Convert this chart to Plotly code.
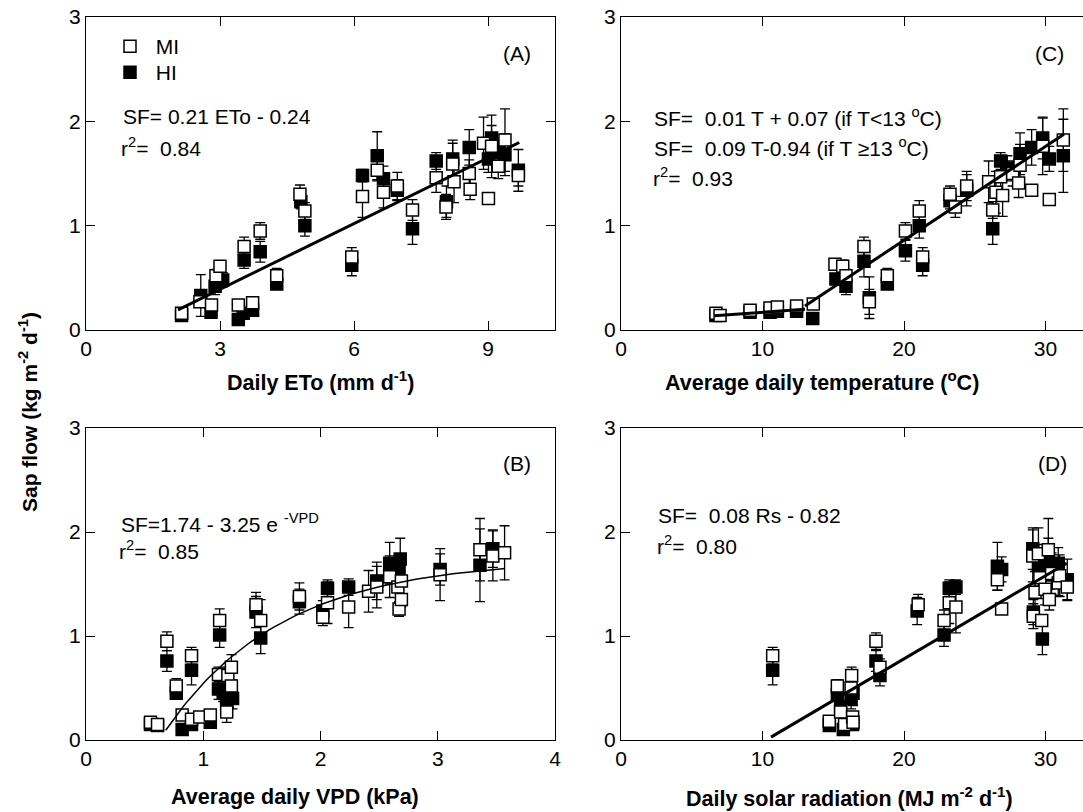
import numpy as np
import plotly.graph_objects as go

W, H = 1083, 812

# ---------------- Data ----------------
# Panel A: Daily ETo
a_mi_x = [2.14, 2.55, 2.81, 2.91, 3.00, 3.41, 3.73, 3.54, 3.90, 4.27, 4.79, 4.90, 5.95, 6.19, 6.52, 6.66, 6.97, 7.31, 7.84, 8.06, 8.21, 8.24, 8.58, 8.60, 8.90, 9.01, 9.08, 9.23, 9.38, 9.68]
a_mi_y = [0.16, 0.27, 0.24, 0.52, 0.61, 0.24, 0.26, 0.80, 0.95, 0.52, 1.30, 1.14, 0.70, 1.28, 1.53, 1.32, 1.38, 1.15, 1.46, 1.18, 1.59, 1.42, 1.50, 1.35, 1.79, 1.26, 1.76, 1.57, 1.82, 1.48]
a_mi_e = [0.02, 0.05, 0.04, 0.06, 0.05, 0.05, 0.04, 0.09, 0.08, 0.07, 0.09, 0.08, 0.09, 0.20, 0.10, 0.15, 0.13, 0.10, 0.14, 0.12, 0.20, 0.20, 0.13, 0.10, 0.25, 0.04, 0.30, 0.12, 0.30, 0.10]
a_hi_x = [2.14, 2.57, 2.80, 2.89, 3.06, 3.41, 3.52, 3.73, 3.54, 3.90, 4.27, 4.81, 4.90, 5.95, 6.19, 6.52, 6.66, 6.97, 7.31, 7.84, 8.07, 8.21, 8.58, 9.01, 9.08, 9.23, 9.38, 9.68]
a_hi_y = [0.14, 0.33, 0.17, 0.42, 0.48, 0.10, 0.16, 0.19, 0.67, 0.75, 0.44, 1.23, 1.00, 0.62, 1.48, 1.67, 1.45, 1.34, 0.97, 1.62, 1.23, 1.64, 1.75, 1.64, 1.84, 1.70, 1.68, 1.53]
a_hi_e = [0.02, 0.20, 0.03, 0.08, 0.07, 0.03, 0.04, 0.04, 0.08, 0.10, 0.05, 0.07, 0.10, 0.10, 0.06, 0.23, 0.12, 0.10, 0.15, 0.08, 0.15, 0.18, 0.17, 0.13, 0.12, 0.12, 0.20, 0.20]
a_fit = (0.21, -0.24)
a_fit_range = [2.06, 9.70]

# Panel C: Average daily temperature
c_mi_x = [6.71, 7.0, 9.12, 10.53, 11.05, 12.41, 13.59, 15.12, 15.67, 15.9, 17.17, 17.55, 18.82, 20.1, 21.08, 21.32, 23.25, 23.63, 24.43, 25.98, 26.27, 26.5, 26.83, 26.97, 27.68, 28.2, 28.1, 29.02, 29.8, 30.27, 31.26]
c_mi_y = [0.16, 0.14, 0.19, 0.21, 0.22, 0.23, 0.25, 0.63, 0.61, 0.52, 0.80, 0.27, 0.52, 0.95, 1.14, 0.70, 1.30, 1.18, 1.38, 1.42, 1.15, 1.32, 1.47, 1.29, 1.50, 1.58, 1.41, 1.34, 1.76, 1.25, 1.82]
c_mi_e = [0.02, 0.02, 0.03, 0.03, 0.03, 0.03, 0.05, 0.05, 0.06, 0.06, 0.09, 0.12, 0.07, 0.08, 0.10, 0.09, 0.08, 0.10, 0.14, 0.20, 0.08, 0.20, 0.20, 0.20, 0.12, 0.20, 0.14, 0.04, 0.27, 0.05, 0.30]
c_hi_x = [6.71, 9.12, 10.53, 11.05, 12.41, 13.55, 15.19, 15.9, 17.17, 17.55, 18.82, 20.1, 21.08, 21.32, 23.25, 24.43, 26.27, 26.83, 27.3, 28.2, 29.02, 29.8, 30.27, 31.26]
c_hi_y = [0.14, 0.17, 0.17, 0.18, 0.18, 0.11, 0.49, 0.42, 0.66, 0.31, 0.44, 0.76, 1.00, 0.62, 1.24, 1.34, 0.97, 1.62, 1.55, 1.69, 1.75, 1.84, 1.64, 1.67]
c_hi_e = [0.02, 0.02, 0.02, 0.02, 0.02, 0.03, 0.05, 0.08, 0.15, 0.20, 0.04, 0.10, 0.12, 0.10, 0.08, 0.15, 0.15, 0.08, 0.12, 0.20, 0.17, 0.20, 0.12, 0.35]
c_fit_low = (0.01, 0.07)
c_fit_high = (0.09, -0.94)
c_fit_range = [6.6, 13.0, 31.3]

# Panel B: Average daily VPD
b_mi_x = [0.55, 0.61, 0.69, 0.77, 0.82, 0.90, 0.90, 0.97, 1.06, 1.13, 1.14, 1.20, 1.21, 1.24, 1.24, 1.45, 1.49, 1.82, 2.02, 2.06, 2.24, 2.41, 2.48, 2.59, 2.66, 2.67, 2.69, 2.69, 3.02, 3.36, 3.47, 3.57]
b_mi_y = [0.17, 0.15, 0.95, 0.52, 0.24, 0.81, 0.20, 0.22, 0.24, 0.63, 1.15, 0.27, 0.62, 0.70, 0.52, 1.30, 1.15, 1.38, 1.18, 1.32, 1.28, 1.43, 1.47, 1.57, 1.47, 1.26, 1.35, 1.53, 1.59, 1.83, 1.77, 1.80]
b_mi_e = [0.02, 0.02, 0.09, 0.07, 0.05, 0.08, 0.02, 0.03, 0.04, 0.07, 0.11, 0.10, 0.08, 0.12, 0.06, 0.12, 0.20, 0.13, 0.08, 0.20, 0.20, 0.20, 0.20, 0.20, 0.20, 0.07, 0.05, 0.25, 0.25, 0.30, 0.24, 0.26]
b_hi_x = [0.55, 0.61, 0.69, 0.77, 0.82, 0.90, 0.90, 1.06, 1.13, 1.14, 1.17, 1.20, 1.22, 1.25, 1.45, 1.49, 1.82, 2.02, 2.06, 2.24, 2.48, 2.59, 2.67, 2.68, 3.02, 3.36, 3.47]
b_hi_y = [0.15, 0.14, 0.76, 0.45, 0.10, 0.67, 0.15, 0.17, 0.49, 1.01, 0.45, 0.35, 0.41, 0.40, 1.23, 0.98, 1.33, 1.24, 1.46, 1.47, 1.53, 1.70, 1.63, 1.74, 1.64, 1.68, 1.84]
b_hi_e = [0.02, 0.02, 0.10, 0.06, 0.03, 0.14, 0.03, 0.03, 0.10, 0.12, 0.08, 0.10, 0.10, 0.10, 0.15, 0.15, 0.12, 0.10, 0.08, 0.08, 0.18, 0.20, 0.14, 0.20, 0.15, 0.35, 0.18]
b_fit = (1.74, 3.25)
b_fit_range = [0.68, 3.57]

# Panel D: Daily solar radiation
d_mi_x = [10.72, 14.72, 15.29, 15.52, 15.8, 16.3, 16.26, 16.37, 16.4, 18.02, 18.3, 21.0, 22.83, 23.2, 23.67, 26.6, 26.9, 29.1, 29.14, 29.26, 29.5, 29.6, 29.73, 29.97, 30.2, 30.27, 30.43, 30.9, 31.0, 31.54]
d_mi_y = [0.81, 0.18, 0.52, 0.27, 0.15, 0.62, 0.50, 0.22, 0.17, 0.95, 0.70, 1.30, 1.15, 1.32, 1.28, 1.54, 1.26, 1.77, 1.19, 1.42, 1.79, 1.56, 1.15, 1.45, 1.83, 1.35, 1.60, 1.51, 1.58, 1.47]
d_mi_e = [0.08, 0.02, 0.06, 0.05, 0.03, 0.08, 0.10, 0.04, 0.03, 0.08, 0.08, 0.10, 0.10, 0.20, 0.25, 0.10, 0.05, 0.25, 0.12, 0.20, 0.25, 0.20, 0.05, 0.15, 0.30, 0.10, 0.20, 0.12, 0.20, 0.12]
d_hi_x = [10.72, 14.72, 15.29, 15.52, 15.71, 16.26, 16.4, 16.37, 18.02, 18.3, 20.93, 22.83, 23.2, 23.67, 26.6, 26.9, 29.1, 29.14, 29.5, 29.78, 30.2, 30.27, 30.9, 31.54]
d_hi_y = [0.67, 0.14, 0.43, 0.32, 0.10, 0.40, 0.45, 0.15, 0.76, 0.62, 1.24, 1.01, 1.46, 1.47, 1.67, 1.64, 1.84, 1.23, 1.68, 0.97, 1.74, 1.67, 1.70, 1.54]
d_hi_e = [0.14, 0.02, 0.05, 0.05, 0.03, 0.10, 0.12, 0.03, 0.10, 0.10, 0.13, 0.11, 0.08, 0.07, 0.23, 0.12, 0.20, 0.12, 0.20, 0.15, 0.20, 0.14, 0.15, 0.20]
d_fit = (0.08, -0.82)
d_fit_range = [10.6, 31.5]

y_ticks = [0, 1, 2, 3]

# ---------------- Helpers ----------------
FONT = "Liberation Sans, Arial, sans-serif"

def px(x):
    return x / W

def py(y):
    return 1 - y / H

fig = go.Figure()

def add_points(xs, ys, es, xa, ya, filled, name, show, legend="legend"):
    fig.add_trace(go.Scatter(
        x=xs, y=ys, mode="markers", name=name, showlegend=show, legend=legend,
        xaxis=xa, yaxis=ya,
        marker=dict(symbol="square", size=12,
                    color="black" if filled else "white",
                    line=dict(color="black", width=1.5)),
        error_y=dict(type="data", array=es, color="black", thickness=1.3, width=5),
    ))

def add_line(xs, ys, xa, ya, width):
    fig.add_trace(go.Scatter(x=xs, y=ys, mode="lines", showlegend=False,
                             xaxis=xa, yaxis=ya,
                             line=dict(color="black", width=width)))

NB = "\u00a0"

# Panel A (x, y)
add_points(a_hi_x, a_hi_y, a_hi_e, "x", "y", True, NB + "HI", True, "legend2")
add_points(a_mi_x, a_mi_y, a_mi_e, "x", "y", False, NB + "MI", True, "legend")
ax = np.array(a_fit_range)
add_line(ax, a_fit[0] * ax + a_fit[1], "x", "y", 3)

# Panel C (x2, y2)
add_points(c_hi_x, c_hi_y, c_hi_e, "x2", "y2", True, "HI", False)
add_points(c_mi_x, c_mi_y, c_mi_e, "x2", "y2", False, "MI", False)
cx1 = np.array(c_fit_range[:2])
cx2 = np.array(c_fit_range[1:])
add_line(cx1, c_fit_low[0] * cx1 + c_fit_low[1], "x2", "y2", 3)
add_line(cx2, c_fit_high[0] * cx2 + c_fit_high[1], "x2", "y2", 3)

# Panel B (x3, y3)
add_points(b_hi_x, b_hi_y, b_hi_e, "x3", "y3", True, "HI", False)
add_points(b_mi_x, b_mi_y, b_mi_e, "x3", "y3", False, "MI", False)
bx = np.linspace(b_fit_range[0], b_fit_range[1], 80)
add_line(bx, b_fit[0] - b_fit[1] * np.exp(-bx), "x3", "y3", 1.5)

# Panel D (x4, y4)
add_points(d_hi_x, d_hi_y, d_hi_e, "x4", "y4", True, "HI", False)
add_points(d_mi_x, d_mi_y, d_mi_e, "x4", "y4", False, "MI", False)
dx = np.array(d_fit_range)
add_line(dx, d_fit[0] * dx + d_fit[1], "x4", "y4", 3)

# ---------------- Axes ----------------
common = dict(showline=True, linecolor="black", linewidth=1.2, mirror="ticks",
              ticks="inside", ticklen=9, tickwidth=1.2, tickcolor="black",
              showgrid=False, zeroline=False, automargin=False,
              tickfont=dict(family=FONT, size=21, color="black"))
right_y = dict(common, mirror=False)

left_dom = [px(86), px(555)]
right_dom = [px(621), 1.0]
top_dom = [py(330), py(17)]
bot_dom = [py(740), py(428)]

fig.update_layout(
    xaxis=dict(domain=left_dom, range=[0, 10.5], tickvals=[0, 3, 6, 9], anchor="y", **common),
    yaxis=dict(domain=top_dom, range=[0, 3], tickvals=y_ticks, anchor="x", **common),
    xaxis2=dict(domain=right_dom, range=[0, 32.65], tickvals=[0, 10, 20, 30], anchor="y2", **common),
    yaxis2=dict(domain=top_dom, range=[0, 3], tickvals=y_ticks, anchor="x2", **right_y),
    xaxis3=dict(domain=left_dom, range=[0, 4], tickvals=[0, 1, 2, 3, 4], anchor="y3", **common),
    yaxis3=dict(domain=bot_dom, range=[0, 3], tickvals=y_ticks, anchor="x3", **common),
    xaxis4=dict(domain=right_dom, range=[0, 32.65], tickvals=[0, 10, 20, 30], anchor="y4", **common),
    yaxis4=dict(domain=bot_dom, range=[0, 3], tickvals=y_ticks, anchor="x4", **right_y),
)

# ---------------- Annotations ----------------
ann = []

def text(x, y, s, size=21, xanchor="left", bold=False, angle=0):
    ann.append(dict(x=px(x), y=py(y), xref="paper", yref="paper", text=("<b>%s</b>" % s) if bold else s,
                    showarrow=False, xanchor=xanchor, yanchor="middle", textangle=angle,
                    font=dict(family=FONT, size=size, color="black")))

# panel letters
text(517, 53, "(A)", xanchor="center")
text(1049, 53, "(C)", xanchor="center")
text(517, 463, "(B)", xanchor="center")
text(1052, 463, "(D)", xanchor="center")

# equations
text(121, 117, "SF= 0.21 ETo - 0.24")
text(119, 147, "r<sup>2</sup>=  0.84")
text(652, 117, "SF=  0.01 T + 0.07 (if T&lt;13 <sup>o</sup>C)")
text(652, 147, "SF=  0.09 T-0.94 (if T \u226513 <sup>o</sup>C)")
text(651, 177, "r<sup>2</sup>=  0.93")
text(119, 523, "SF=1.74 - 3.25 e <sup>-VPD</sup>")
text(117, 550, "r<sup>2</sup>=  0.85")
text(656, 515, "SF=  0.08 Rs - 0.82")
text(655, 545, "r<sup>2</sup>=  0.80")

# axis titles
text(320, 381, "Daily ETo (mm d<sup>-1</sup>)", size=21.5, xanchor="center", bold=True)
text(822, 381, "Average daily temperature (<sup>o</sup>C)", size=21.5, xanchor="center", bold=True)
text(295, 797, "Average daily VPD (kPa)", size=21.5, xanchor="center", bold=True)
text(849, 797, "Daily solar radiation (MJ m<sup>-2</sup> d<sup>-1</sup>)", size=21.5, xanchor="center", bold=True)
ann.append(dict(x=px(28), y=py(412), xref="paper", yref="paper",
                text="<b>Sap flow (kg m<sup>-2</sup> d<sup>-1</sup>)</b>", showarrow=False,
                textangle=-90, xanchor="center", yanchor="middle",
                font=dict(family=FONT, size=21, color="black")))

leg_common = dict(xanchor="left", yanchor="top", bgcolor="rgba(0,0,0,0)",
                  font=dict(family=FONT, size=21, color="black"))

fig.update_layout(
    width=W, height=H,
    margin=dict(l=0, r=0, t=0, b=0),
    paper_bgcolor="white", plot_bgcolor="white",
    annotations=ann,
    showlegend=True,
    legend=dict(x=px(110), y=py(26), **leg_common),
    legend2=dict(x=px(110), y=py(52), **leg_common),
)

fig.write_html("out.html", config={"displayModeBar": False},
               post_script="document.body.style.margin='0px';")
